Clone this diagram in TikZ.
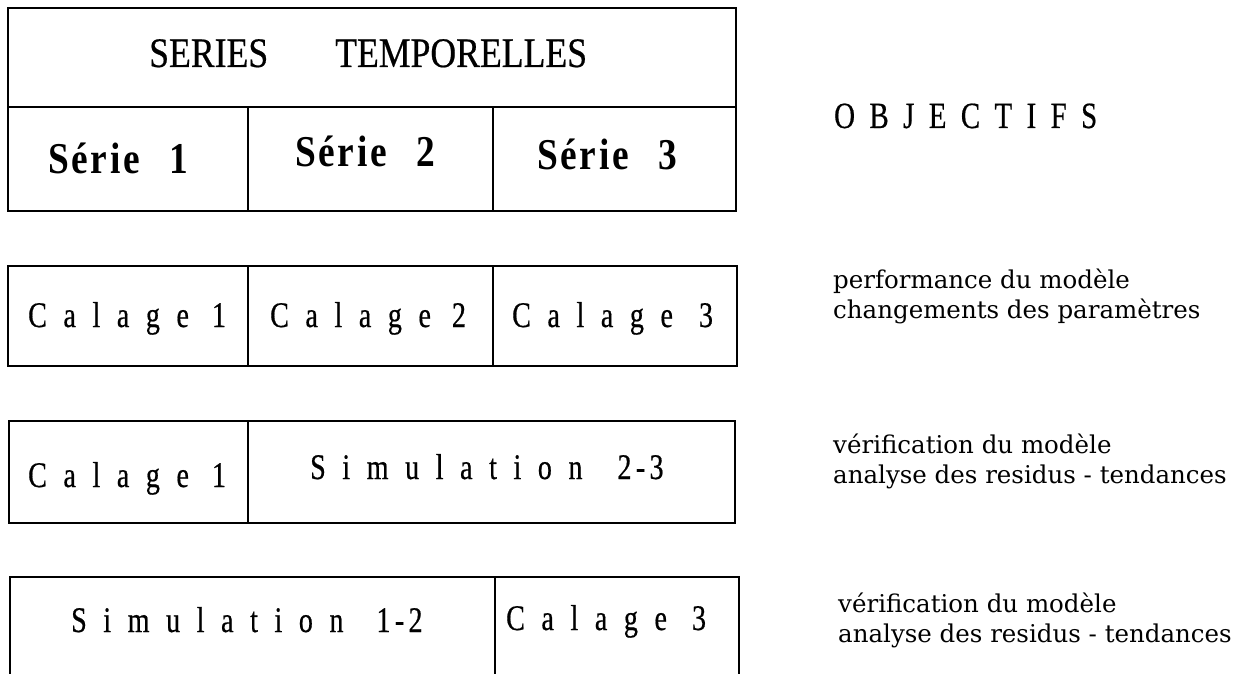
\documentclass[tikz,border=0pt]{standalone}
\usepackage{fontspec}
\usetikzlibrary{positioning}
\newfontfamily\cellfont[FakeStretch=0.85,FakeBold=0.5]{Liberation Serif}
\newfontfamily\seriefont[FakeStretch=0.85,LetterSpace=6]{Liberation Serif}
\newfontfamily\trackfont[FakeStretch=0.78,FakeBold=0.5,LetterSpace=46]{Liberation Serif}
\newfontfamily\numfont[FakeStretch=0.78,FakeBold=0.5,LetterSpace=12]{Liberation Serif}
\newfontfamily\notefont{DejaVu Serif}
\tikzset{
  frame/.style={line width=1.5pt},
  heading/.style={font=\cellfont\fontsize{42}{46}\selectfont, inner sep=0pt, anchor=base west},
  serie/.style={font=\seriefont\bfseries\fontsize{44}{48}\selectfont, inner sep=0pt, anchor=base west},
  phase/.style={font=\trackfont\fontsize{36}{40}\selectfont, inner sep=0pt, anchor=base west},
  goal/.style={font=\notefont\fontsize{24.5}{30}\selectfont, inner sep=0pt, anchor=base west, align=left},
}

\begin{document}
\begin{tikzpicture}[x=1pt, y=-1pt]
  \clip (0,0) rectangle (1245,674);
  % series block
  \draw[frame] (8,8) rectangle (736,211);
  \draw[line width=2.4pt] (8,107) -- (736,107);
  \draw[frame] (248,107) -- (248,211) (493,107) -- (493,211);
  \node[heading] (title) at (149,67) {SERIES\hspace{67pt}TEMPORELLES};
  \node[serie] (s1) at (48,173)  {Série\hspace{30pt}1};
  \node[serie] (s2) at (295,166) {Série\hspace{30pt}2};
  \node[serie] (s3) at (537,170) {Série\hspace{30pt}3};
  % calage of each series
  \draw[frame] (8,266) rectangle (737,366);
  \draw[frame] (248,266) -- (248,366) (493,266) -- (493,366);
  \node[phase] (cal1) at (28,327)  {Calage\hspace{23pt}{\numfont 1}};
  \node[phase] (cal2) at (270,327) {Calage\hspace{21pt}{\numfont 2}};
  \node[phase] (cal3) at (512,327) {Calage\hspace{26pt}{\numfont 3}};
  % calage 1, simulation 2-3
  \draw[frame] (9,421) rectangle (735,523);
  \draw[frame] (248,421) -- (248,523);
  \node[phase] (val1) at (28,487)   {Calage\hspace{23pt}{\numfont 1}};
  \node[phase] (sim23) at (310,479) {Simulation\hspace{35pt}{\numfont 2-3}};
  % simulation 1-2, calage 3 (cut at the bottom)
  \draw[frame] (10,690) -- (10,577) -- (739,577) -- (739,690);
  \draw[frame] (495,577) -- (495,690);
  \node[phase] (sim12) at (71,632) {Simulation\hspace{33pt}{\numfont 1-2}};
  \node[phase] (val3) at (506,630) {Calage\hspace{25pt}{\numfont 3}};
  % objectives
  \node[font=\trackfont\fontsize{37}{40}\selectfont\addfontfeature{LetterSpace=39}, inner sep=0pt, anchor=base west] (obj) at (834,128) {OBJECTIFS};
  \node[goal] (goal1) at (833,318) {performance du modèle\\changements des paramètres};
  \node[goal] (goal2) at (833,483) {vérification du modèle\\analyse des residus - tendances};
  \node[goal] (goal3) at (838,642) {vérification du modèle\\analyse des residus - tendances};
\end{tikzpicture}
\end{document}
